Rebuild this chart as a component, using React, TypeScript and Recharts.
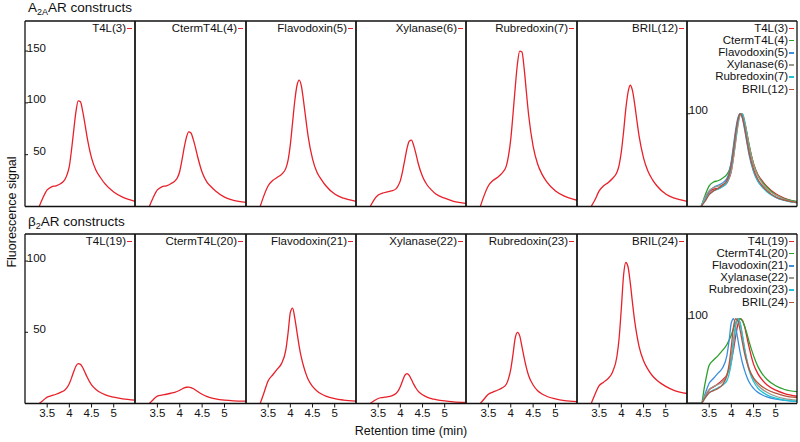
import { LineChart, Line, XAxis, YAxis } from 'recharts'

// retention time grid (min)
const TIME = [3.32, 3.4, 3.5, 3.6, 3.7, 3.8, 3.9, 3.95, 4.0, 4.05, 4.1, 4.15, 4.2, 4.25, 4.3, 4.35, 4.4, 4.5, 4.6, 4.7, 4.8, 5.0, 5.2, 5.48]

// A2A AR constructs
const A_T4L = [0, 8, 16, 19, 20, 22, 26, 31, 39, 55, 74, 92, 102, 101, 92, 80, 67, 47, 35, 28, 22, 14, 9, 5]
const A_CTERM = [0, 8, 16, 19, 20, 22, 25, 28, 34, 45, 57, 67, 72, 71, 65, 57, 48, 33, 24, 19, 15, 9, 6, 4]
const A_FLAVO = [0, 10, 20, 25, 28, 31, 37, 45, 60, 81, 102, 117, 122, 116, 101, 84, 68, 46, 33, 26, 20, 12, 8, 5]
const A_XYLA = [0, 6, 11, 13, 14, 15, 17, 20, 25, 34, 45, 56, 63, 64, 59, 51, 42, 29, 21, 16, 12, 8, 5, 3]
const A_RUBRE = [0, 10, 20, 25, 28, 32, 39, 49, 65, 89, 115, 138, 150, 149, 133, 110, 88, 58, 41, 31, 24, 15, 10, 6]
const A_BRIL = [0, 6, 15, 20, 23, 27, 33, 40, 53, 72, 94, 110, 117, 112, 99, 83, 68, 47, 34, 26, 20, 12, 8, 5]

// b2 AR constructs
const B_T4L = [0, 2, 4.5, 5.5, 6.5, 7.8, 9.5, 11.3, 14, 18, 22.5, 26.3, 28, 27.5, 25.3, 22, 18.6, 13, 9.8, 7.7, 6.2, 4.4, 3.3, 2.4]
const B_CTERM = [0, 2.5, 5.2, 5.9, 6.5, 7.2, 8, 8.6, 9.3, 10.2, 11, 11.4, 11.5, 11.2, 10.5, 9.5, 8.4, 6.5, 5, 4, 3.3, 2.4, 1.9, 1.6]
const B_FLAVO = [0, 7, 16, 20, 24, 28, 38, 50, 64, 67, 60, 50, 40, 32, 26, 21, 17, 12, 8.8, 6.7, 5.2, 3.4, 2.4, 1.6]
const B_XYLA = [0, 1.8, 3.5, 4.2, 4.7, 5.4, 7, 8.8, 12, 16, 19.7, 21, 19.7, 16.8, 13.6, 10.9, 8.7, 6.1, 4.5, 3.5, 2.8, 1.8, 1.2, 0.8]
const B_RUBRE = [0, 3, 6.5, 8, 9.3, 10.8, 13.5, 17.5, 24, 34.5, 46, 50, 47.5, 40, 32, 25, 19.5, 13, 9, 6.7, 5.1, 3.2, 2, 1.3]
const B_BRIL = [0, 6, 12.5, 15, 17.5, 22, 33, 46, 67, 90, 99, 96, 85, 71, 58, 48, 40, 30, 24, 19.5, 16.3, 12, 9, 7]

// flat baseline before the peaks in the b2 overlay
const B_LEAD_TIME = [3.0, 3.25]
const B_LEAD_VALUE = [0, 0]

const A_LABELS = ['T4L(3)', 'CtermT4L(4)', 'Flavodoxin(5)', 'Xylanase(6)', 'Rubredoxin(7)', 'BRIL(12)']
const B_LABELS = ['T4L(19)', 'CtermT4L(20)', 'Flavodoxin(21)', 'Xylanase(22)', 'Rubredoxin(23)', 'BRIL(24)']
const OVERLAY_COLORS = ['#e8202a', '#2ca02c', '#3b8fdc', '#9a9a8c', '#22c3d6', '#b5543a']
const RED = '#e8202a'

const X_TICKS = [3.5, 4, 4.5, 5]
const A_Y_TICKS = [50, 100, 150]
const B_Y_TICKS = [50, 100]
const OVERLAY_Y_TICKS = [100]

const A_SERIES = [A_T4L, A_CTERM, A_FLAVO, A_XYLA, A_RUBRE, A_BRIL]
const B_SERIES = [B_T4L, B_CTERM, B_FLAVO, B_XYLA, B_RUBRE, B_BRIL]

const norm = (arr: number[]) => {
  const m = Math.max(...arr)
  return arr.map((v) => (v / m) * 100)
}

const buildRows = (series: number[][]) =>
  TIME.map((t, i) => {
    const row: Record<string, number> = { t }
    series.forEach((s, k) => {
      row['s' + k] = s[i]
    })
    return row
  })

const buildOverlayRows = (series: number[][], leadT: number[], leadV: number[]) => {
  const lead = leadT.map((t, j) => {
    const row: Record<string, number> = { t }
    series.forEach((_, k) => {
      row['s' + k] = leadV[j]
    })
    return row
  })
  return [...lead, ...buildRows(series.map(norm))]
}

const A_ROWS = buildRows(A_SERIES)
const B_ROWS = buildRows(B_SERIES)
const A_OVER = buildOverlayRows(A_SERIES, [], [])
const B_OVER = buildOverlayRows(B_SERIES, B_LEAD_TIME, B_LEAD_VALUE)

const FONT = '"Liberation Sans", Arial, Helvetica, sans-serif'
const INK = '#111'
const X_DOMAIN = [3.0, 5.48]
const AXIS_LINE = { stroke: INK, strokeWidth: 1.3 }

const YTick = (props: any) => {
  const { y, payload } = props
  return (
    <g>
      <line x1={1} x2={4} y1={y} y2={y} stroke={INK} strokeWidth={1} />
      <text x={22} y={y + 0.5} textAnchor="end" fontSize={11.5} fill={INK}>
        {payload.value}
      </text>
    </g>
  )
}

type PanelProps = {
  index: number
  top: number
  plotH: number
  rows: Record<string, number>[]
  keys: string[]
  labels: string[]
  colors: string[]
  yMax: number
  yTicks: number[] | null
  xTicks: boolean
}

function Panel({ index, top, plotH, rows, keys, labels, colors, yMax, yTicks, xTicks }: PanelProps) {
  const l0 = Math.round(25 + index * 110.3)
  const l1 = Math.round(25 + (index + 1) * 110.3)
  const xH = xTicks ? 24 : 1
  const w = l1 - l0 + 2
  const h = plotH + xH + 1
  return (
    <div style={{ position: 'absolute', left: l0 - 1, top: top - 1, width: w, height: h }}>
      <LineChart width={w} height={h} data={rows} margin={{ top: 0, right: 0, left: 0, bottom: 0 }}>
        <XAxis
          dataKey="t"
          type="number"
          domain={X_DOMAIN}
          ticks={X_TICKS}
          allowDataOverflow
          height={xH}
          axisLine={AXIS_LINE}
          tick={xTicks ? { fontSize: 11.5, fill: INK } : false}
          tickLine={xTicks ? { stroke: INK } : false}
          tickSize={4}
          tickMargin={1}
        />
        <XAxis xAxisId="top" orientation="top" dataKey="t" type="number" domain={X_DOMAIN} height={1} tick={false} tickLine={false} axisLine={AXIS_LINE} />
        <YAxis
          type="number"
          domain={[0, yMax]}
          ticks={yTicks || []}
          allowDataOverflow
          width={1}
          axisLine={AXIS_LINE}
          tickLine={false}
          tick={yTicks ? <YTick /> : false}
        />
        <YAxis yAxisId="right" orientation="right" domain={[0, yMax]} width={1} tick={false} tickLine={false} axisLine={AXIS_LINE} />
        {keys.map((k, i) => (
          <Line
            key={k}
            dataKey={k}
            name={labels[i]}
            type="monotone"
            stroke={colors[i]}
            strokeWidth={1.3}
            dot={false}
            activeDot={false}
            isAnimationActive={false}
          />
        ))}
      </LineChart>
      <div
        style={{
          position: 'absolute',
          right: 4,
          top: 1.5,
          textAlign: 'right',
          fontSize: 11.5,
          lineHeight: '12.2px',
          whiteSpace: 'nowrap',
        }}
      >
        {labels.map((lab, i) => (
          <div key={lab}>
            {lab}
            <span
              style={{
                display: 'inline-block',
                width: 5,
                height: 1.6,
                background: colors[i],
                marginLeft: 1,
                verticalAlign: 'middle',
              }}
            />
          </div>
        ))}
      </div>
    </div>
  )
}

export default function App() {
  const keys = ['s0', 's1', 's2', 's3', 's4', 's5']
  return (
    <div style={{ position: 'absolute', left: 0, top: 0, width: 800, height: 442, background: '#fff', fontFamily: FONT, color: INK }}>
      <div style={{ position: 'absolute', left: 28, top: 0, fontSize: 13.5, whiteSpace: 'nowrap' }}>
        A<span style={{ fontSize: 9, position: 'relative', top: 3 }}>2A</span>AR constructs
      </div>
      <div style={{ position: 'absolute', left: 28, top: 214, fontSize: 13.5, whiteSpace: 'nowrap' }}>
        β<span style={{ fontSize: 9, position: 'relative', top: 3 }}>2</span>AR constructs
      </div>
      <div
        style={{
          position: 'absolute',
          left: 12,
          top: 212,
          fontSize: 12.5,
          whiteSpace: 'nowrap',
          transform: 'translate(-50%, -50%) rotate(-90deg)',
        }}
      >
        Fluorescence signal
      </div>
      <div style={{ position: 'absolute', left: 411, top: 431, fontSize: 12.5, whiteSpace: 'nowrap', transform: 'translate(-50%, -50%)' }}>
        Retention time (min)
      </div>

      {A_LABELS.map((lab, i) => (
        <Panel
          key={'a' + i}
          index={i}
          top={21}
          plotH={185.5}
          rows={A_ROWS}
          keys={[keys[i]]}
          labels={[lab]}
          colors={[RED]}
          yMax={179}
          yTicks={i === 0 ? A_Y_TICKS : null}
          xTicks={false}
        />
      ))}
      <Panel index={6} top={21} plotH={185.5} rows={A_OVER} keys={keys} labels={A_LABELS} colors={OVERLAY_COLORS} yMax={200} yTicks={OVERLAY_Y_TICKS} xTicks={false} />

      {B_LABELS.map((lab, i) => (
        <Panel
          key={'b' + i}
          index={i}
          top={234}
          plotH={169.5}
          rows={B_ROWS}
          keys={[keys[i]]}
          labels={[lab]}
          colors={[RED]}
          yMax={119}
          yTicks={i === 0 ? B_Y_TICKS : null}
          xTicks
        />
      ))}
      <Panel index={6} top={234} plotH={169.5} rows={B_OVER} keys={keys} labels={B_LABELS} colors={OVERLAY_COLORS} yMax={200} yTicks={OVERLAY_Y_TICKS} xTicks />
    </div>
  )
}
